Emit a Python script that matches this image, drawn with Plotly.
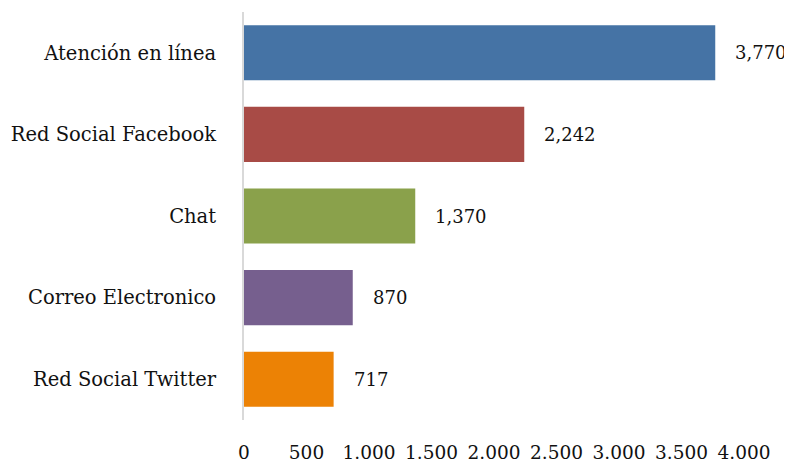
import plotly.graph_objects as go

categories = ["Atención en línea", "Red Social Facebook", "Chat", "Correo Electronico", "Red Social Twitter"]
values = [3770, 2242, 1370, 870, 717]
value_labels = ["3,770", "2,242", "1,370", "870", "717"]
colors = ["#4573A5", "#A84B46", "#8AA14B", "#765F8E", "#EC8205"]
tick_vals = [0, 500, 1000, 1500, 2000, 2500, 3000, 3500, 4000]
tick_text = ["0", "500", "1.000", "1.500", "2.000", "2.500", "3.000", "3.500", "4.000"]

FONT = "DejaVu Serif"
FS = 19.5

fig = go.Figure(go.Bar(
    y=categories, x=values, orientation="h",
    marker=dict(color=colors, line=dict(width=0)),
    width=0.675, hoverinfo="skip",
))

for c, v, t in zip(categories, values, value_labels):
    fig.add_annotation(x=v, y=c, text=t, showarrow=False, xanchor="left",
                       xshift=18, font=dict(family=FONT, size=18, color="#111111"))

# page body has an 8px default margin; figure size/margins compensate for it
fig.update_layout(
    width=784, height=453,
    margin=dict(l=236, r=48, t=4, b=41),
    paper_bgcolor="white", plot_bgcolor="white",
    showlegend=False,
    font=dict(family=FONT, size=FS, color="#111111"),
    xaxis=dict(range=[0, 4000], tickvals=tick_vals, ticktext=tick_text,
               tickfont=dict(size=18.5),
               showgrid=False, zeroline=False, showline=False, automargin=False,
               ticks="", ticklabelstandoff=19, fixedrange=True),
    yaxis=dict(autorange="reversed", showgrid=False, zeroline=False, automargin=False,
               showline=True, linecolor="#D9D9D9", linewidth=2,
               ticks="", ticklabelstandoff=22, fixedrange=True),
)

fig.write_html("out.html")
